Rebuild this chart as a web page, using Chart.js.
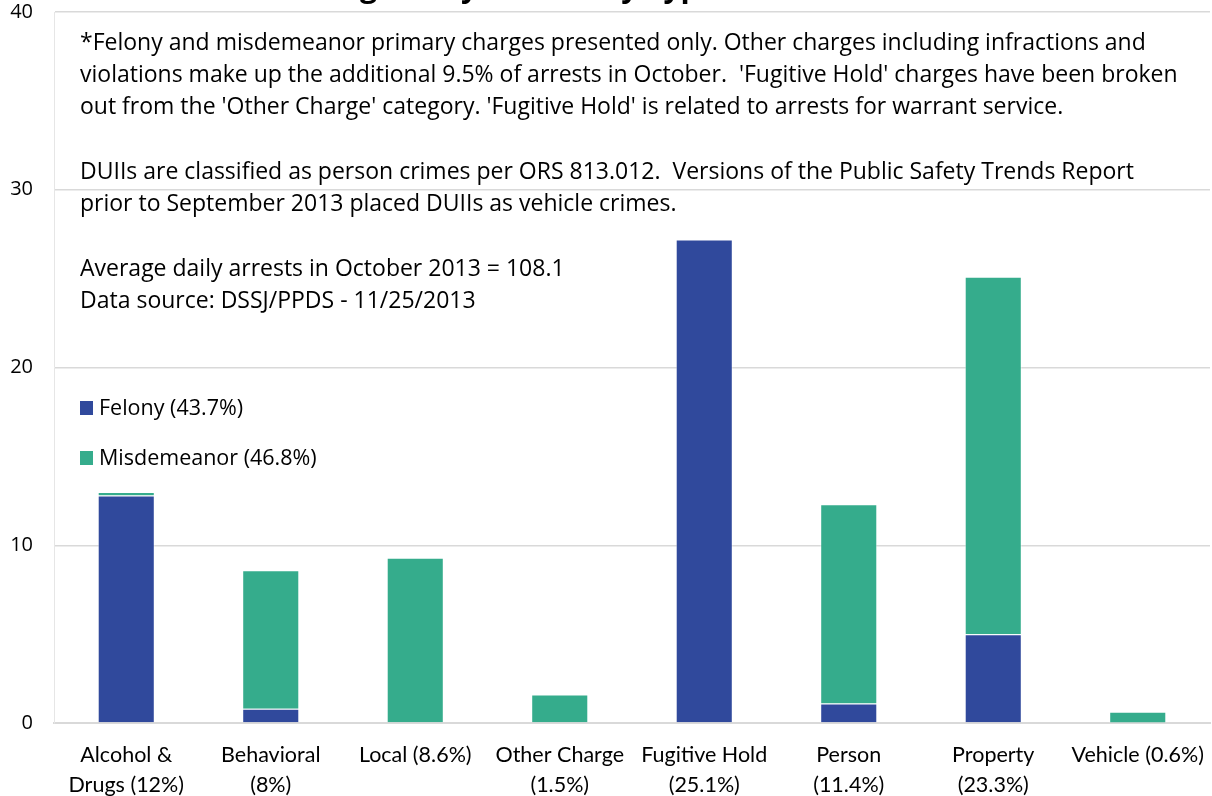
<!DOCTYPE html>
<html>
<head>
<meta charset="utf-8">
<script src="https://cdn.jsdelivr.net/npm/chart.js@4"></script>
<style>
    html, body { margin: 0; padding: 0; background: #fff; }
    #wrap { width: 1212px; height: 796px; }
</style>
</head>
<body>
<div id="wrap"><canvas id="arrests-by-type"></canvas></div>
<script>
const categories = [
    ['Alcohol &', 'Drugs (12%)'],
    ['Behavioral', '(8%)'],
    'Local (8.6%)',
    ['Other Charge', '(1.5%)'],
    ['Fugitive Hold', '(25.1%)'],
    ['Person', '(11.4%)'],
    ['Property', '(23.3%)'],
    'Vehicle (0.6%)'
];
const felony = [12.8, 0.8, 0, 0, 27.2, 1.1, 5.0, 0.03];
const misdemeanor = [0.2, 7.8, 9.3, 1.6, 0, 11.2, 20.1, 0.6];
const seriesLabels = ['Felony (43.7%)', 'Misdemeanor (46.8%)'];
const seriesColors = ['#30499c', '#35ac8c'];
const yTicks = [0, 10, 20, 30, 40];

const chartTitle = 'Average Daily Arrests by Type';
const notes = [
    "*Felony and misdemeanor primary charges presented only. Other charges including infractions and",
    "violations make up the additional 9.5% of arrests in October.  'Fugitive Hold' charges have been broken",
    "out from the 'Other Charge' category. 'Fugitive Hold' is related to arrests for warrant service.",
    "",
    "DUIIs are classified as person crimes per ORS 813.012.  Versions of the Public Safety Trends Report",
    "prior to September 2013 placed DUIIs as vehicle crimes.",
    "",
    "Average daily arrests in October 2013 = 108.1",
    "Data source: DSSJ/PPDS - 11/25/2013"
];

// text boxes, title and in-plot legend drawn on top of the chart
const overlayPlugin = {
    id: 'overlay',
    afterDraw(chart) {
        const ctx = chart.ctx;
        ctx.save();
        ctx.fillStyle = '#000';
        ctx.textBaseline = 'alphabetic';
        ctx.textAlign = 'center';
        ctx.font = 'bold 30px "Open Sans"';
        ctx.fillText(chartTitle, 495, -3);

        ctx.textAlign = 'left';
        ctx.textBaseline = 'middle';
        ctx.font = '23px "Open Sans"';
        notes.forEach((line, i) => {
            if (line) ctx.fillText(line, 80, 43 + i * 32.3);
        });

        ctx.font = '21.5px "Open Sans"';
        seriesLabels.forEach((label, i) => {
            const y = 408 + i * 50;
            ctx.fillStyle = seriesColors[i];
            ctx.fillRect(80, y - 7, 13, 14);
            ctx.fillStyle = '#000';
            ctx.fillText(label, 99, y + 1);
        });
        ctx.restore();
    }
};

const canvas = document.querySelector('#arrests-by-type');
new Chart(canvas, {
    type: 'bar',
    data: {
        labels: categories,
        datasets: [
            {
                label: seriesLabels[0],
                data: felony,
                backgroundColor: seriesColors[0],
                borderColor: 'rgba(255,255,255,0.45)',
                borderWidth: 1,
            },
            {
                label: seriesLabels[1],
                data: misdemeanor,
                backgroundColor: seriesColors[1],
                borderColor: 'rgba(255,255,255,0.45)',
                borderWidth: 1,
            }
        ]
    },
    options: {
        responsive: true,
        maintainAspectRatio: false,
        animation: false,
        layout: {
            padding: { top: 12, right: 2, left: 0, bottom: 0 }
        },
        datasets: {
            bar: { categoryPercentage: 0.395, barPercentage: 1 }
        },
        scales: {
            x: {
                stacked: true,
                afterFit: axis => {
                    axis.height = 73;
                    axis.paddingLeft = 0;
                    axis.paddingRight = 0;
                },
                grid: { display: false, drawTicks: false },
                border: { color: '#d9d9d9', width: 2 },
                ticks: {
                    color: '#000',
                    padding: 17,
                    maxRotation: 0,
                    autoSkip: false,
                    font: { family: 'Lato', size: 21.5, lineHeight: 1.4 }
                }
            },
            y: {
                stacked: true,
                min: 0,
                max: 40,
                afterFit: axis => {
                    axis.width = 54;
                    axis.paddingTop = 0;
                    axis.paddingBottom = 0;
                },
                afterBuildTicks: axis => { axis.ticks = yTicks.map(v => ({ value: v })); },
                grid: { color: '#d9d9d9', lineWidth: 1.5, drawTicks: false },
                border: { display: true, color: '#e6e6e6', width: 1 },
                ticks: {
                    color: '#000',
                    padding: 21,
                    font: { family: 'Open Sans', size: 20 }
                }
            }
        },
        plugins: {
            legend: { display: false },
            tooltip: { enabled: false }
        }
    },
    plugins: [overlayPlugin]
});
</script>
</body>
</html>
